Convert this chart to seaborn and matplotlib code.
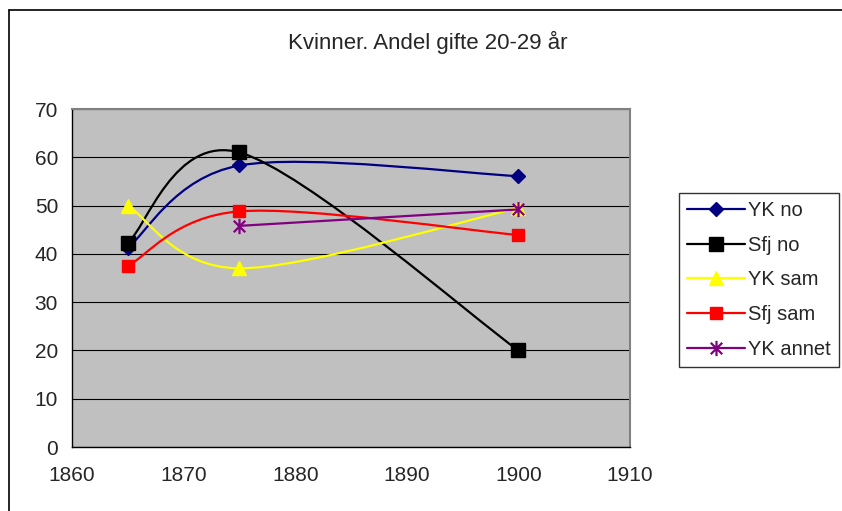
import numpy as np
import pandas as pd
import matplotlib
matplotlib.use('Agg')
import matplotlib.pyplot as plt
from matplotlib.path import Path
from matplotlib.patches import PathPatch
from matplotlib.lines import Line2D
import seaborn as sns

# Data
years = [1865, 1875, 1900]
yk_no = [41.3, 58.3, 56.1]
sfj_no = [42.3, 61.0, 20.0]
yk_sam = [50.0, 37.0, 49.5]
sfj_sam = [37.5, 48.8, 43.9]
yk_annet = [np.nan, 45.8, 49.2]
labels = ['YK no', 'Sfj no', 'YK sam', 'Sfj sam', 'YK annet']
title = 'Kvinner. Andel gifte 20-29 år'

sns.set_style('white')
plt.rcParams['font.family'] = ['Liberation Sans', 'DejaVu Sans']

asterisk = Path([(0, -1), (0, 1), (-0.75, -0.75), (0.75, 0.75), (-0.75, 0.75), (0.75, -0.75)],
                [Path.MOVETO, Path.LINETO] * 3)

series = [yk_no, sfj_no, yk_sam, sfj_sam, yk_annet]
colors = ['#000080', '#000000', '#FFFF00', '#FF0000', '#800080']
markers = ['D', 's', '^', 's', asterisk]
msizes = [7, 10, 10, 9, 11]


def smooth_path(x, y):
	# Excel-like smoothed line: cubic bezier through the points
	pts = [(a, b) for a, b in zip(x, y) if not np.isnan(b)]
	verts = [pts[0]]
	codes = [Path.MOVETO]
	for i in range(len(pts) - 1):
		p0 = pts[max(i - 1, 0)]
		p1 = pts[i]
		p2 = pts[i + 1]
		p3 = pts[min(i + 2, len(pts) - 1)]
		c1 = (p1[0] + (p2[0] - p0[0]) / 6, p1[1] + (p2[1] - p0[1]) / 6)
		c2 = (p2[0] - (p3[0] - p1[0]) / 6, p2[1] - (p3[1] - p1[1]) / 6)
		verts += [c1, c2, p2]
		codes += [Path.CURVE4] * 3
	return Path(verts, codes)


fig = plt.figure(figsize=(8.42, 5.11), dpi=100)
ax = fig.add_axes([72 / 842, 64 / 511, 558 / 842, 338 / 511])
ax.set_facecolor('#C0C0C0')

handles = []
for i, (vals, lab) in enumerate(zip(series, labels)):
	c = colors[i]
	ax.add_patch(PathPatch(smooth_path(years, vals), fill=False, edgecolor=c, lw=1.6, zorder=3 + i))
	df = pd.DataFrame({'year': years, 'value': vals}).dropna()
	sns.lineplot(data=df, x='year', y='value', ax=ax, color=c, marker=markers[i], markersize=msizes[i],
	             linestyle='none', markeredgecolor=c, markerfacecolor=c, markeredgewidth=1.6 if i == 4 else 1,
	             zorder=3 + i)
	handles.append(Line2D([], [], color=c, lw=1.6, marker=markers[i], markersize=msizes[i],
	                      markeredgecolor=c, markerfacecolor=c, markeredgewidth=1.6 if i == 4 else 1))

ax.set_xlim(1860, 1910)
ax.set_ylim(0, 70)
ax.set_xticks(range(1860, 1911, 10))
ax.set_yticks(range(0, 71, 10))
ax.set_xlabel('')
ax.set_ylabel('')
ax.yaxis.grid(True, color='black', lw=0.8)
ax.set_axisbelow(True)
ax.tick_params(axis='both', direction='out', length=5, width=1, color='black', labelsize=15, pad=5)
ax.tick_params(axis='x', pad=9)
for s in ['left', 'bottom']:
	ax.spines[s].set_color('black')
	ax.spines[s].set_linewidth(1)
for s in ['top', 'right']:
	ax.spines[s].set_color('#808080')
	ax.spines[s].set_linewidth(1.5)

fig.text(428 / 842, 1 - 42 / 511, title, ha='center', va='center', fontsize=16)

leg = fig.legend(handles, labels, loc='upper left', bbox_to_anchor=(679 / 842, 1 - 193 / 511),
                 fontsize=14.5, frameon=True, fancybox=False, edgecolor='black', handlelength=2.9,
                 handletextpad=0.15, labelspacing=0.78, borderpad=0.4, borderaxespad=0)
leg.get_frame().set_linewidth(1)

# chart area border
fig.add_artist(Line2D([8.5 / 842, 8.5 / 842], [0, 1 - 10 / 511], color='black', lw=1.2, transform=fig.transFigure))
fig.add_artist(Line2D([8.5 / 842, 1], [1 - 10 / 511, 1 - 10 / 511], color='black', lw=1.2, transform=fig.transFigure))

fig.savefig('out.png', dpi=100)
